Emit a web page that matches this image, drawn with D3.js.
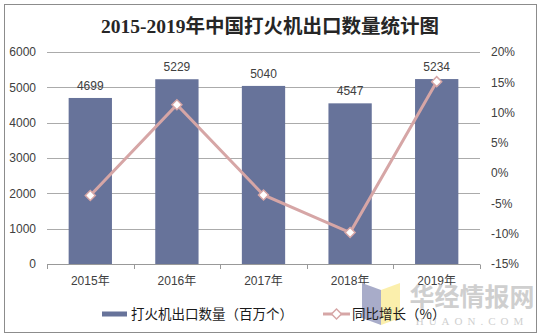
<!DOCTYPE html>
<html>
<head>
<meta charset="utf-8">
<script src="https://cdn.jsdelivr.net/npm/d3@7"></script>
<style>
  html, body { margin: 0; padding: 0; background: #fff; }
  svg { display: block; }
</style>
</head>
<body>
<svg id="chart" width="540" height="336"></svg>
<script>
const title = "2015-2019年中国打火机出口数量统计图";
const categories = ["2015年", "2016年", "2017年", "2018年", "2019年"];
const quantities = [4699, 5229, 5040, 4547, 5234];
const growth = [-3.7, 11.3, -3.6, -9.8, 15.1];
const leftTicks = [0, 1000, 2000, 3000, 4000, 5000, 6000];
const rightTicks = [-15, -10, -5, 0, 5, 10, 15, 20];
const legendLabels = ["打火机出口数量（百万个）", "同比增长（%）"];

const barColor = "#67739a";
const lineColor = "#d6a6a6";
const textColor = "#404040";
const gridColor = "#ababab";
const latin = "'Liberation Sans', Arial, 'Noto Sans CJK SC', sans-serif";

const svg = d3.select("#chart");

// frame
svg.append("rect").attr("x", 4.5).attr("y", 4.5).attr("width", 532).attr("height", 328)
  .attr("fill", "#fff").attr("stroke", "#8c8c8c").attr("stroke-width", 1);

// title
svg.append("text").attr("x", 270).attr("y", 33).attr("text-anchor", "middle")
  .style("font-family", "'Liberation Serif', 'Times New Roman', 'Noto Sans CJK SC', serif")
  .style("font-weight", "bold").style("font-size", "19.5px").attr("fill", "#262626")
  .text(title);

const x = d3.scaleBand().domain(categories).range([47, 480]).paddingInner(0.5).paddingOuter(0.25);
const yL = d3.scaleLinear().domain([0, 6000]).range([264, 52]);
const yR = d3.scaleLinear().domain([-15, 20]).range([264, 52]);

// gridlines
svg.append("g").selectAll("line").data(leftTicks.filter(d => d > 0)).join("line")
  .attr("x1", 47).attr("x2", 480)
  .attr("y1", d => Math.round(yL(d)) + 0.5).attr("y2", d => Math.round(yL(d)) + 0.5)
  .attr("stroke", gridColor).attr("stroke-width", 1);

// left axis
const gl = svg.append("g").attr("transform", "translate(40,0)")
  .call(d3.axisLeft(yL).tickValues(leftTicks).tickSize(0).tickPadding(4).tickFormat(d3.format("d")));
gl.select(".domain").remove();
gl.selectAll("text").style("font-family", latin).style("font-size", "12px").attr("fill", textColor);

// right axis
const gr = svg.append("g").attr("transform", "translate(487,0)")
  .call(d3.axisRight(yR).tickValues(rightTicks).tickSize(0).tickPadding(4).tickFormat(d => d + "%"));
gr.select(".domain").remove();
gr.selectAll("text").style("font-family", latin).style("font-size", "12px").attr("fill", textColor);

// bars
svg.append("g").selectAll("rect").data(quantities).join("rect")
  .attr("x", (d, i) => x(categories[i]))
  .attr("y", d => yL(d))
  .attr("width", x.bandwidth())
  .attr("height", d => yL(0) - yL(d))
  .attr("fill", barColor);

// value labels
svg.append("g").selectAll("text").data(quantities).join("text")
  .attr("x", (d, i) => x(categories[i]) + x.bandwidth() / 2)
  .attr("y", d => yL(d) - 8)
  .attr("text-anchor", "middle")
  .style("font-family", latin).style("font-size", "12px").attr("fill", textColor)
  .text(d => d);

// bottom axis
const step = x.step();
const boundaries = d3.range(categories.length + 1).map(i => 47 + i * step);
const gb = svg.append("g");
gb.append("line").attr("x1", 47).attr("x2", 480).attr("y1", 264.5).attr("y2", 264.5)
  .attr("stroke", "#999").attr("stroke-width", 1);
gb.selectAll("line.tk").data(boundaries).join("line").attr("class", "tk")
  .attr("x1", d => Math.round(d) + 0.5).attr("x2", d => Math.round(d) + 0.5)
  .attr("y1", 264.5).attr("y2", 269).attr("stroke", "#999");
gb.selectAll("text").data(categories).join("text")
  .attr("x", d => x(d) + x.bandwidth() / 2).attr("y", 285)
  .attr("text-anchor", "middle")
  .style("font-family", latin).style("font-size", "12px").attr("fill", textColor)
  .text(d => d);

// line
const line = d3.line().x((d, i) => x(categories[i]) + x.bandwidth() / 2).y(d => yR(d));
svg.append("path").datum(growth).attr("d", line)
  .attr("fill", "none").attr("stroke", lineColor).attr("stroke-width", 3);

const diamond = d3.symbol().type(d3.symbolDiamond2 || d3.symbolSquare2).size(60);
function drawDiamond(g, cx, cy) {
  g.append("path").attr("d", d3.symbol().type(d3.symbolSquare).size(50)())
    .attr("transform", `translate(${cx},${cy}) rotate(45)`)
    .attr("fill", "#fff").attr("stroke", lineColor).attr("stroke-width", 1.5);
}
const gm = svg.append("g");
growth.forEach((d, i) => drawDiamond(gm, x(categories[i]) + x.bandwidth() / 2, yR(d)));

// watermark
const wm = svg.append("g");
wm.append("polygon").attr("points", "362,283 381,290 381,325 362,318").attr("fill", "#a3a8c6").attr("opacity", 0.95);
wm.append("polygon").attr("points", "381,290 400,283 400,318 381,325").attr("fill", "#fbeea8").attr("opacity", 0.95);
wm.append("text").attr("x", 472).attr("y", 306).attr("text-anchor", "middle")
  .style("font-family", "'Noto Sans CJK SC', sans-serif").style("font-weight", "bold")
  .style("font-size", "25px").attr("fill", "#cfcfcf").text("华经情报网");
wm.append("text").attr("x", 472).attr("y", 325).attr("text-anchor", "middle")
  .style("font-family", "'Liberation Serif', serif").style("font-size", "11px")
  .style("letter-spacing", "5px").attr("fill", "#cfcfcf").text("HUAON.COM");

// legend
const lg = svg.append("g");
lg.append("rect").attr("x", 102).attr("y", 311.5).attr("width", 25).attr("height", 5).attr("fill", barColor);
lg.append("text").attr("x", 131).attr("y", 319)
  .style("font-family", "'Noto Sans CJK SC', sans-serif").style("font-size", "13.5px").attr("fill", "#1a1a1a")
  .text(legendLabels[0]);
lg.append("line").attr("x1", 323).attr("x2", 350).attr("y1", 314).attr("y2", 314)
  .attr("stroke", lineColor).attr("stroke-width", 3);
drawDiamond(lg, 336.5, 314);
lg.append("text").attr("x", 352).attr("y", 319)
  .style("font-family", "'Noto Sans CJK SC', sans-serif").style("font-size", "13.5px").attr("fill", "#1a1a1a")
  .text(legendLabels[1]);
</script>
</body>
</html>
